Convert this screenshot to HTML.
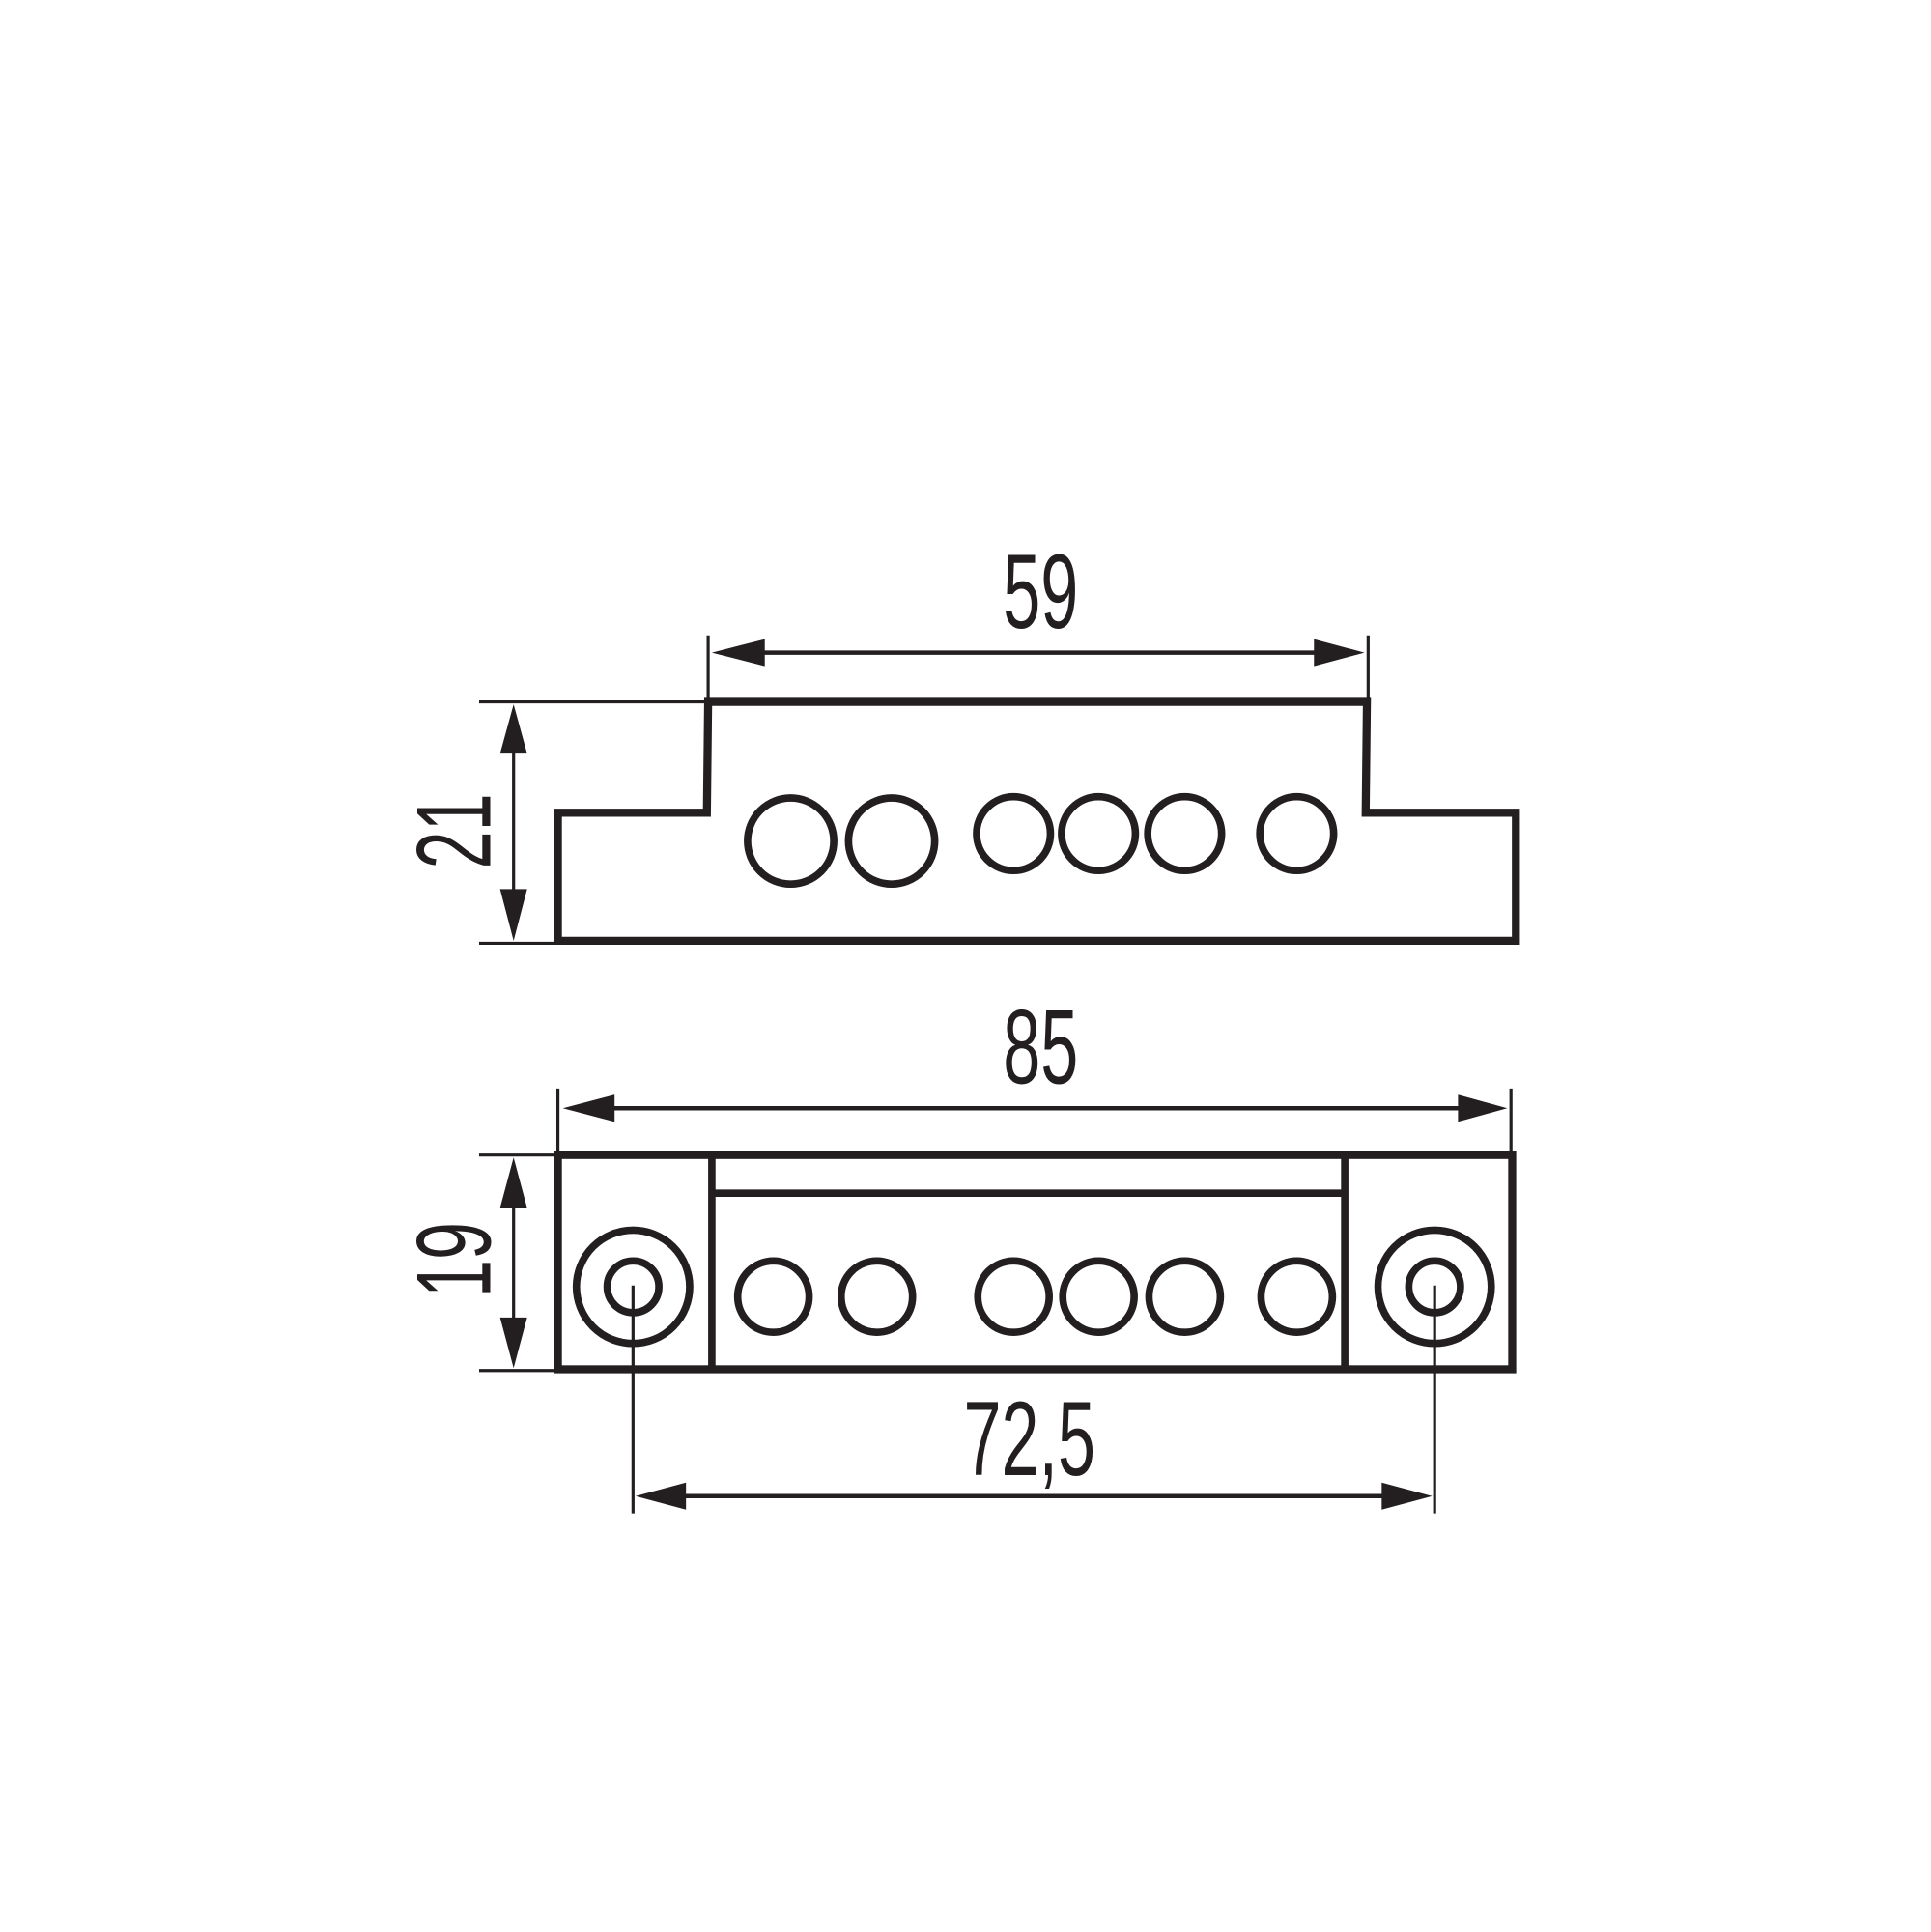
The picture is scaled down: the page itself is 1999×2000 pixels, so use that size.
<!DOCTYPE html>
<html><head><meta charset="utf-8"><style>html,body{margin:0;padding:0;background:#fff}svg{display:block}</style></head>
<body>
<svg width="1999" height="2000" viewBox="0 0 1568 1569" xmlns="http://www.w3.org/2000/svg">
<rect width="1568" height="1569" fill="#fff"/>
<g stroke="#231f20" fill="none">
<!-- top figure -->
<g stroke-width="2.5">
<line x1="575" y1="516" x2="575" y2="570"/>
<line x1="1111" y1="516" x2="1111" y2="570"/>
<line x1="600" y1="530" x2="1090" y2="530" stroke-width="3.5"/>
<line x1="389" y1="570" x2="575" y2="570"/>
<line x1="389" y1="766" x2="453" y2="766"/>
<line x1="417" y1="590" x2="417" y2="746"/>
</g>
<path d="M575,570 L1110,570 L1109,660 L1231,660 L1231,764 L453,764 L453,660 L574,660 Z" stroke-width="6.5"/>
<g stroke-width="6">
<circle cx="642" cy="683" r="35"/>
<circle cx="724" cy="683" r="35"/>
<circle cx="823" cy="677" r="30"/>
<circle cx="892" cy="677" r="30"/>
<circle cx="962" cy="677" r="30"/>
<circle cx="1053" cy="677" r="30"/>
</g>
<!-- bottom figure -->
<g stroke-width="2.5">
<line x1="453" y1="884" x2="453" y2="938"/>
<line x1="1227" y1="884" x2="1227" y2="938"/>
<line x1="480" y1="900" x2="1205" y2="900" stroke-width="3.5"/>
<line x1="389" y1="938" x2="453" y2="938"/>
<line x1="389" y1="1113" x2="453" y2="1113"/>
<line x1="417" y1="960" x2="417" y2="1092"/>
<line x1="514" y1="1044" x2="514" y2="1229"/>
<line x1="1165" y1="1044" x2="1165" y2="1229"/>
<line x1="530" y1="1215" x2="1150" y2="1215" stroke-width="3.5"/>
</g>
<rect x="453" y="938" width="775" height="174" stroke-width="6.5"/>
<g stroke-width="6">
<line x1="578" y1="938" x2="578" y2="1112"/>
<line x1="1092" y1="938" x2="1092" y2="1112"/>
<line x1="578" y1="969" x2="1092" y2="969"/>
<circle cx="514" cy="1045" r="46"/>
<circle cx="514" cy="1045" r="21"/>
<circle cx="1165" cy="1045" r="46"/>
<circle cx="1165" cy="1045" r="21"/>
<circle cx="628" cy="1053" r="29"/>
<circle cx="712" cy="1053" r="29"/>
<circle cx="823" cy="1053" r="29"/>
<circle cx="892" cy="1053" r="29"/>
<circle cx="962" cy="1053" r="29"/>
<circle cx="1053" cy="1053" r="29"/>
</g>
</g>
<g fill="#231f20">
<polygon points="578,530 621,519 621,541"/>
<polygon points="1108,530 1067,519 1067,541"/>
<polygon points="417,572 406,612 428,612"/>
<polygon points="417,764 406,722 428,722"/>
<polygon points="457,900 499,889 499,911"/>
<polygon points="1224,900 1184,889 1184,911"/>
<polygon points="417,940 406,981 428,981"/>
<polygon points="417,1111 406,1070 428,1070"/>
<polygon points="516,1215 557,1204 557,1226"/>
<polygon points="1163,1215 1122,1204 1122,1226"/>
</g>
<g font-family="Liberation Sans, sans-serif" fill="#231f20" font-size="86" text-anchor="middle">
<text x="0" y="0" transform="translate(845,510) scale(0.64,1)">59</text>
<text x="0" y="0" transform="translate(845,880) scale(0.64,1)">85</text>
<text x="0" y="0" transform="translate(836,1198) scale(0.64,1)">72,5</text>
<text x="0" y="0" transform="translate(398,675) rotate(-90) scale(0.64,1)">21</text>
<text x="0" y="0" transform="translate(398,1023) rotate(-90) scale(0.64,1)">19</text>
</g>
</svg>
</body></html>
